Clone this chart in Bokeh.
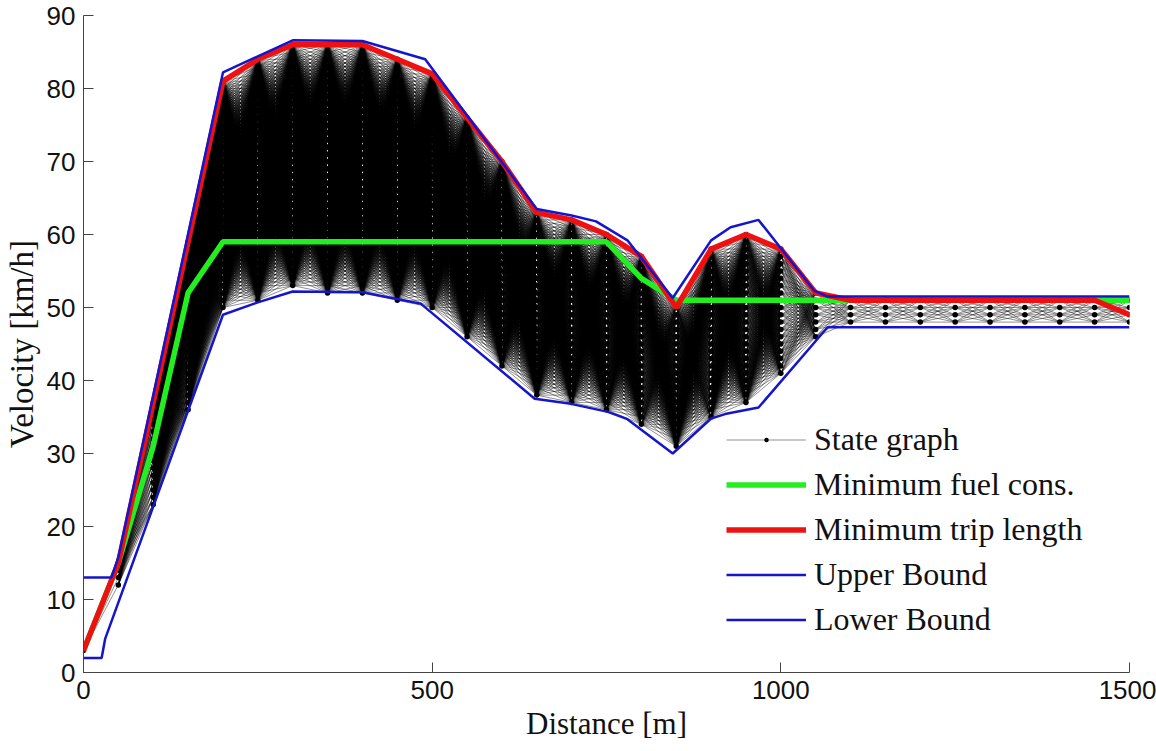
import numpy as np
from bokeh.plotting import figure
from bokeh.models import Legend, LegendItem, Range1d, FixedTicker
from bokeh.embed import file_html
from bokeh.resources import INLINE

# Stations along the route [m] and the velocity grid nodes at each station [km/h]
stations = [0, 50, 100, 150, 200, 250, 300, 350, 400, 450, 500, 550, 600, 650, 700,
            750, 800, 850, 900, 950, 1000, 1050, 1100, 1150, 1200, 1250, 1300, 1350,
            1400, 1450, 1500]
node_lo = [3, 12, 23, 36, 50, 51, 53, 52, 52, 51, 50, 46, 42, 38, 37,
           36, 34, 31, 35, 37, 41, 46, 48, 48, 48, 48, 48, 48, 48, 48, 48]
node_hi = [3, 15, 37, 59, 81, 84, 86, 86, 86, 84, 82, 76, 70, 63, 62,
           60, 57, 50, 58, 60, 58, 52, 51, 51, 51, 51, 51, 51, 51, 51, 51]

# Optimal trajectories through the graph
fuel_v = [3, 15, 31, 52, 59, 59, 59, 59, 59, 59, 59, 59, 59, 59, 59,
          59, 54, 51, 51, 51, 51, 51, 51, 51, 51, 51, 51, 51, 51, 51, 51]
trip_v = [3, 15, 37, 59, 81, 84, 86, 86, 86, 84, 82, 76, 70, 63, 62,
          60, 57, 50, 58, 60, 58, 52, 51, 51, 51, 51, 51, 51, 51, 51, 49]

# Velocity bounds
upper_d = [0, 40, 50, 200, 300, 400, 490, 650, 700, 735, 780, 845, 900, 928, 968, 1048, 1067, 1500]
upper_v = [13, 13, 15.8, 82.2, 86.6, 86.5, 84, 63.5, 62.6, 61.8, 59.2, 51.3, 59.2, 61, 62, 52.3, 51.5, 51.5]
lower_d = [0, 26, 31, 200, 250, 300, 400, 484, 647, 699, 752, 780, 845, 900, 920, 968, 1067, 1500]
lower_v = [2, 2, 4.6, 49, 50.7, 52.2, 52.1, 50.5, 37.5, 36.8, 35.7, 34.7, 30, 34.8, 35.4, 36.3, 47.3, 47.3]

x_ticks = [0, 500, 1000, 1500]
y_ticks = [0, 10, 20, 30, 40, 50, 60, 70, 80, 90]

# Edges: every node of a station connects to every node of the next station
x0, y0, x1, y1 = [], [], [], []
for i in range(len(stations) - 1):
    a = np.arange(node_lo[i], node_hi[i] + 1)
    b = np.arange(node_lo[i + 1], node_hi[i + 1] + 1)
    A, B = np.meshgrid(a, b, indexing="ij")
    x0.extend([stations[i]] * A.size)
    x1.extend([stations[i + 1]] * A.size)
    y0.extend(A.ravel().tolist())
    y1.extend(B.ravel().tolist())

nx, ny = [], []
for s, lo, hi in zip(stations, node_lo, node_hi):
    for v in range(lo, hi + 1):
        nx.append(s)
        ny.append(v)

p = figure(width=1156, height=751, x_range=Range1d(0, 1500), y_range=Range1d(0, 90),
           output_backend="svg", toolbar_location=None,
           min_border_left=82, min_border_right=27, min_border_top=15, min_border_bottom=79)
p.outline_line_color = None
p.grid.visible = False

seg_r = p.segment(x0, y0, x1, y1, line_color="black", line_alpha=0.55,
                  line_width=0.8)
node_r = p.scatter(nx, ny, marker="dot", size=22, color="black")
fuel_r = p.line(stations, fuel_v, line_color="#22ee22", line_width=5.5)
trip_r = p.line(stations, trip_v, line_color="#ee1111", line_width=5.5)
up_r = p.line(upper_d, upper_v, line_color="#1515cc", line_width=2.5)
lo_r = p.line(lower_d, lower_v, line_color="#1515cc", line_width=2.5)

p.xaxis.ticker = FixedTicker(ticks=x_ticks)
p.yaxis.ticker = FixedTicker(ticks=y_ticks)
for ax in (p.xaxis[0], p.yaxis[0]):
    ax.major_tick_in = 10
    ax.major_tick_out = 0
    ax.minor_tick_in = 0
    ax.minor_tick_out = 0
    ax.axis_line_color = "#444444"
    ax.major_tick_line_color = "#444444"
    ax.major_label_text_font = "Liberation Sans"
    ax.major_label_text_font_size = "26px"
    ax.major_label_text_color = "#111111"
    ax.major_label_standoff = 8
    ax.axis_label_text_font = "Liberation Serif"
    ax.axis_label_text_font_style = "normal"
    ax.axis_label_text_color = "#111111"
    ax.axis_label_standoff = 4
p.xaxis.axis_label = "Distance [m]"
p.xaxis.axis_label_text_font_size = "31px"
p.yaxis.axis_label = "Velocity [km/h]"
p.yaxis.axis_label_text_font_size = "33px"

legend = Legend(items=[
    LegendItem(label="State graph", renderers=[seg_r, node_r]),
    LegendItem(label="Minimum fuel cons.", renderers=[fuel_r]),
    LegendItem(label="Minimum trip length", renderers=[trip_r]),
    LegendItem(label="Upper Bound", renderers=[up_r]),
    LegendItem(label="Lower Bound", renderers=[lo_r]),
], location=(643, 30))
legend.padding = 6
legend.margin = 0
legend.spacing = 0
legend.glyph_width = 80
legend.glyph_height = 45
legend.label_height = 45
legend.label_standoff = 8
legend.label_text_font = "Liberation Serif"
legend.label_text_font_size = "32px"
legend.label_text_color = "#111111"
legend.border_line_color = None
legend.background_fill_color = "white"
legend.background_fill_alpha = 1.0
p.add_layout(legend)

open("out.html", "w").write(file_html(p, INLINE))
